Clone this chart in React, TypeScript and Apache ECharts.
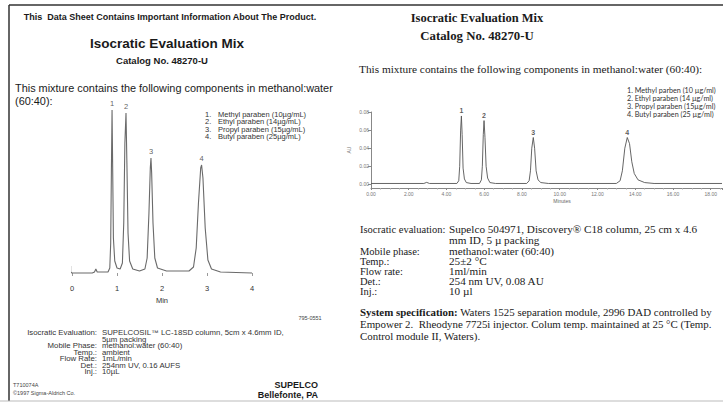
import React, { useEffect, useRef } from "react";
import * as echarts from "echarts";

// ---------- Data ----------
// Left sheet (SUPELCOSIL LC-18SD, 1997): [time (min), response (AU)]
const LEFT_TRACE: [number, number][] = [
  [-0.03, 0.007], [-0.03, 0.001], [0.0, 0.0], [0.45, 0.0], [0.5, 0.001], [0.53, 0.004], [0.56, 0.001],
  [0.8, 0.001], [0.84, 0.005], [0.86, 0.03], [0.875, 0.1], [0.89, 0.163], [0.905, 0.1], [0.92, 0.035],
  [0.95, 0.012], [1.0, 0.005], [1.07, 0.004], [1.12, 0.01], [1.15, 0.05], [1.175, 0.13], [1.2, 0.16],
  [1.22, 0.11], [1.245, 0.04], [1.28, 0.012], [1.35, 0.004], [1.5, 0.002], [1.62, 0.004], [1.67, 0.015],
  [1.71, 0.06], [1.74, 0.105], [1.755, 0.115], [1.77, 0.1], [1.8, 0.05], [1.84, 0.015], [1.9, 0.005],
  [2.1, 0.002], [2.6, 0.002], [2.7, 0.006], [2.76, 0.025], [2.81, 0.07], [2.86, 0.105], [2.88, 0.108],
  [2.91, 0.095], [2.96, 0.045], [3.02, 0.013], [3.1, 0.004], [3.3, 0.001], [4.0, 0.0],
];
const LEFT_PEAK_IDS = ["1", "2", "3", "4"];
const LEFT_PEAKS: [number, number][] = [[0.89, 0.163], [1.2, 0.16], [1.755, 0.115], [2.88, 0.108]];
const LEFT_X_TICKS = [0, 1, 2, 3, 4];
const LEFT_COMPONENTS = [
  "Methyl paraben (10µg/mL)",
  "Ethyl paraben (14µg/mL)",
  "Propyl paraben (15µg/mL)",
  "Butyl paraben (25µg/mL)",
];

// Right sheet (Discovery C18, 25 cm): [time (min), absorbance (AU)]
const RIGHT_TRACE: [number, number][] = [
  [0, 0.001], [2.8, 0.001], [2.95, 0.0022], [3.1, 0.001], [4.55, 0.001], [4.65, 0.004], [4.7, 0.02],
  [4.75, 0.06], [4.79, 0.0756], [4.83, 0.055], [4.88, 0.018], [4.95, 0.006], [5.05, 0.002], [5.3, 0.001],
  [5.75, 0.001], [5.85, 0.005], [5.9, 0.02], [5.95, 0.055], [5.99, 0.0705], [6.04, 0.052], [6.1, 0.02],
  [6.18, 0.007], [6.3, 0.002], [6.6, 0.001], [8.25, 0.001], [8.38, 0.004], [8.45, 0.015], [8.52, 0.04],
  [8.6, 0.0518], [8.67, 0.04], [8.75, 0.015], [8.85, 0.005], [9.0, 0.002], [9.4, 0.001], [13.0, 0.001],
  [13.2, 0.004], [13.32, 0.015], [13.45, 0.04], [13.58, 0.0518], [13.7, 0.045], [13.82, 0.025],
  [13.95, 0.012], [14.15, 0.005], [14.5, 0.002], [15.0, 0.001], [18.6, 0.001],
];
const RIGHT_PEAK_IDS = ["1", "2", "3", "4"];
const RIGHT_PEAKS: [number, number][] = [[4.79, 0.0756], [5.99, 0.0705], [8.6, 0.0518], [13.58, 0.0518]];
const RIGHT_COMPONENTS = [
  "1. Methyl parben (10 µg/ml)",
  "2. Ethyl paraben (14 µg/ml)",
  "3. Propyl paraben (15µg/ml)",
  "4. Butyl paraben (25 µg/ml)",
];

const LEFT_CONDITIONS: [string, string][] = [
  ["Isocratic Evaluation:", "SUPELCOSIL™ LC-18SD column, 5cm x 4.6mm ID,"],
  ["", "5µm packing"],
  ["Mobile Phase:", "methanol:water (60:40)"],
  ["Temp.:", "ambient"],
  ["Flow Rate:", "1mL/min"],
  ["Det.:", "254nm UV, 0.16 AUFS"],
  ["Inj.:", "10µL"],
];
const RIGHT_CONDITIONS: [string, string][] = [
  ["Isocratic evaluation:", "Supelco 504971, Discovery® C18 column, 25 cm x 4.6"],
  ["", "mm ID, 5 µ packing"],
  ["Mobile phase:", "methanol:water (60:40)"],
  ["Temp.:", "25±2 °C"],
  ["Flow rate:", "1ml/min"],
  ["Det.:", "254 nm UV, 0.08 AU"],
  ["Inj.:", "10 µl"],
];

const SANS = '"Liberation Sans", Arial, sans-serif';
const SERIF = '"Liberation Serif", "Times New Roman", serif';

function txt(text: string, x: number, y: number, size: number, opts: any = {}) {
  const style: any = {
    text,
    fontSize: size,
    fontFamily: opts.family || SANS,
    fontWeight: opts.bold ? "bold" : "normal",
    fill: opts.color || "#1a1a1a",
    align: opts.align || "left",
    verticalAlign: "middle",
  };
  if (opts.lineHeight) style.lineHeight = opts.lineHeight;
  return { type: "text", x, y, scaleX: opts.scaleX || 1, silent: true, style };
}

function line(x1: number, y1: number, x2: number, y2: number, color: string, w: number) {
  return { type: "line", silent: true, shape: { x1, y1, x2, y2 }, style: { stroke: color, lineWidth: w } };
}

export default function App() {
  const ref = useRef<HTMLDivElement>(null);
  useEffect(() => {
    document.body.style.margin = "0";
    document.body.style.background = "#fff";
    const chart = echarts.init(ref.current!, null, { renderer: "svg" });

    const graphic: any[] = [
      line(9, 5, 723, 5, "#333", 1.5),
      line(9, 5, 9, 401, "#333", 1.5),
      line(0, 401, 723, 401, "#bbb", 1),
      // Left sheet
      txt("This  Data Sheet Contains Important Information About The Product.", 170, 17, 9, { bold: true, align: "center" }),
      txt("Isocratic Evaluation Mix", 167, 43, 13.5, { bold: true, align: "center" }),
      txt("Catalog No. 48270-U", 162, 60, 9.5, { bold: true, align: "center" }),
      txt("This mixture contains the following components in methanol:water", 15, 88, 10.9),
      txt("(60:40):", 15, 101, 10.9),
      txt("795-0551", 310, 318, 5.5, { align: "center", color: "#444" }),
      txt("T710074A", 13, 385, 5.5, { color: "#444" }),
      txt("©1997 Sigma-Aldrich Co.", 13, 393, 5.5, { color: "#444" }),
      txt("SUPELCO", 318, 385, 9, { bold: true, align: "right" }),
      txt("Bellefonte, PA", 318, 395, 9, { bold: true, align: "right", lineHeight: 9 }),
      // Right sheet
      txt("Isocratic Evaluation Mix", 477, 18, 12.5, { bold: true, align: "center", family: SERIF }),
      txt("Catalog No. 48270-U", 477, 36, 12.8, { bold: true, align: "center", family: SERIF }),
      txt("This mixture contains the following components in methanol:water (60:40):", 359, 69, 11.3, { family: SERIF }),
      {
        type: "text",
        x: 360,
        y: 312,
        silent: true,
        style: {
          text: "{b|System specification:} Waters 1525 separation module, 2996 DAD controlled by",
          fontSize: 10.9,
          lineHeight: 11,
          fontFamily: SERIF,
          fill: "#1a1a1a",
          verticalAlign: "middle",
          rich: { b: { fontWeight: "bold", fontSize: 10.9, lineHeight: 11, fontFamily: SERIF, fill: "#1a1a1a" } },
        },
      },
      txt("Empower 2.  Rheodyne 7725i injector. Colum temp. maintained at 25 °C (Temp.", 360, 324, 10.9, { family: SERIF, lineHeight: 11 }),
      txt("Control module II, Waters).", 360, 336, 10.9, { family: SERIF, lineHeight: 11 }),
      txt("Minutes", 562, 201, 5, { align: "center", color: "#666" }),
    ];
    LEFT_COMPONENTS.forEach((c, i) => {
      graphic.push(txt(`${i + 1}.`, 205, 114 + i * 7.6, 7.5, { color: "#333", lineHeight: 7.5 }));
      graphic.push(txt(c, 218, 114 + i * 7.6, 7.5, { color: "#333", lineHeight: 7.5 }));
    });
    RIGHT_COMPONENTS.forEach((c, i) => {
      graphic.push(txt(c, 627, 90 + i * 8.3, 7.2, { color: "#333", family: "Lato, sans-serif", lineHeight: 8 }));
    });
    const leftRows = [333, 339.5, 346, 352.5, 359, 365.5, 372];
    LEFT_CONDITIONS.forEach(([k, v], i) => {
      if (k) graphic.push(txt(k, 97, leftRows[i], 6.8, { align: "right", color: "#333", scaleX: 1.15, lineHeight: 6.2 }));
      graphic.push(txt(v, 102, leftRows[i], 6.8, { color: "#333", scaleX: 1.15, lineHeight: 6.2 }));
    });
    const rightRows = [229, 240, 251, 261, 271, 281, 291];
    RIGHT_CONDITIONS.forEach(([k, v], i) => {
      if (k) graphic.push(txt(k, 360, rightRows[i], 10.5, { family: SERIF, lineHeight: 9.5 }));
      graphic.push(txt(v, 449, rightRows[i], 10.5, { family: SERIF, lineHeight: 9.5, scaleX: 1.065 }));
    });

    const fmt2 = (v: number) => v.toFixed(2);

    chart.setOption({
      animation: false,
      backgroundColor: "#fff",
      grid: [
        { left: 72, top: 103, width: 180, height: 170 },
        { left: 371, top: 112, width: 351, height: 76 },
      ],
      xAxis: [
        {
          gridIndex: 0,
          type: "value",
          min: LEFT_X_TICKS[0],
          max: LEFT_X_TICKS[LEFT_X_TICKS.length - 1],
          interval: 1,
          offset: 8,
          axisLine: { show: false },
          axisTick: { show: true, length: 3, lineStyle: { color: "#999" } },
          axisLabel: { fontSize: 7.5, color: "#333", margin: 3, fontFamily: SANS },
          splitLine: { show: false },
          name: "Min",
          nameLocation: "middle",
          nameGap: 15,
          nameTextStyle: { fontSize: 7.5, color: "#333", fontFamily: SANS },
        },
        {
          gridIndex: 1,
          type: "value",
          min: 0,
          max: 18.6,
          interval: 2,
          axisLine: { show: true, onZero: false, lineStyle: { color: "#888", width: 1 } },
          axisTick: { show: true, length: 2, lineStyle: { color: "#888" } },
          minorTick: { show: true, splitNumber: 4, length: 1.5, lineStyle: { color: "#aaa" } },
          axisLabel: { fontSize: 5, color: "#777", margin: 3, formatter: fmt2, showMaxLabel: false, fontFamily: SANS },
          splitLine: { show: false },
        },
      ],
      yAxis: [
        { gridIndex: 0, type: "value", min: 0, max: 0.17, show: false },
        {
          gridIndex: 1,
          type: "value",
          min: -0.004,
          max: 0.08,
          splitNumber: 5,
          axisLine: { show: true, lineStyle: { color: "#888", width: 1 } },
          axisTick: { show: true, length: 3, lineStyle: { color: "#888" } },
          axisLabel: { fontSize: 5, color: "#777", margin: 2, formatter: fmt2, showMinLabel: false, fontFamily: SANS },
          splitLine: { show: false },
          name: "AU",
          nameLocation: "middle",
          nameGap: 20,
          nameRotate: 90,
          nameTextStyle: { fontSize: 5, color: "#777", fontFamily: SANS },
        },
      ],
      series: [
        {
          type: "line",
          xAxisIndex: 0,
          yAxisIndex: 0,
          data: LEFT_TRACE,
          symbol: "none",
          clip: false,
          lineStyle: { color: "#6a6a6a", width: 1.1 },
        },
        {
          type: "scatter",
          xAxisIndex: 0,
          yAxisIndex: 0,
          data: LEFT_PEAKS,
          symbolSize: 1,
          itemStyle: { color: "rgba(0,0,0,0)" },
          label: {
            show: true,
            position: "top",
            distance: 2,
            formatter: (p: any) => LEFT_PEAK_IDS[p.dataIndex],
            fontSize: 7.5,
            color: "#333",
            fontFamily: SANS,
          },
        },
        {
          type: "line",
          xAxisIndex: 1,
          yAxisIndex: 1,
          data: RIGHT_TRACE,
          symbol: "none",
          lineStyle: { color: "#555", width: 0.9 },
        },
        {
          type: "scatter",
          xAxisIndex: 1,
          yAxisIndex: 1,
          data: RIGHT_PEAKS,
          symbolSize: 1,
          itemStyle: { color: "rgba(0,0,0,0)" },
          label: {
            show: true,
            position: "top",
            distance: 1,
            formatter: (p: any) => RIGHT_PEAK_IDS[p.dataIndex],
            fontSize: 7,
            fontWeight: "bold",
            color: "#333",
            fontFamily: SANS,
          },
        },
      ],
      graphic,
    });
    return () => chart.dispose();
  }, []);
  return <div ref={ref} style={{ width: 723, height: 405 }} />;
}
